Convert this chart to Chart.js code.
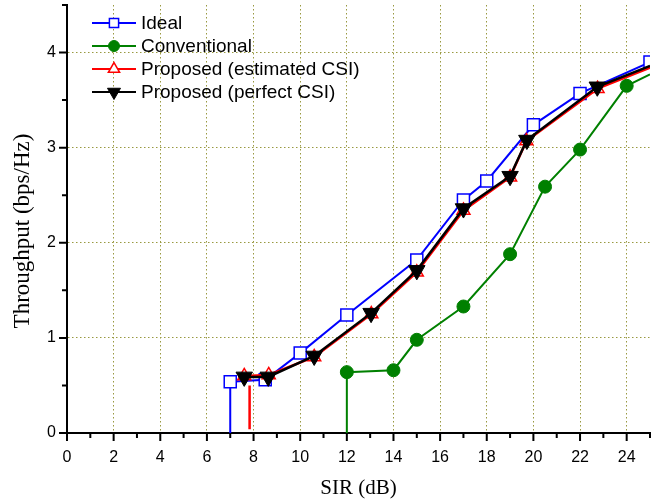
<!DOCTYPE html>
<html>
<head>
<meta charset="utf-8">
<script src="https://cdn.jsdelivr.net/npm/chart.js@4.4.0/dist/chart.umd.min.js"></script>
<style>
  html, body { margin: 0; padding: 0; background: #fff; }
</style>
</head>
<body>
<canvas id="myChart" width="668" height="504"></canvas>
<script>
// series (SIR in dB, throughput in bps/Hz)
var seriesNames = ["Ideal", "Conventional", "Proposed (estimated CSI)", "Proposed (perfect CSI)"];
var idealSIR = [7, 7, 8.5, 10, 12, 15, 17, 18, 20, 22, 25];
var idealTput = [0, 0.54, 0.56, 0.84, 1.24, 1.82, 2.45, 2.65, 3.24, 3.57, 3.9];
var convSIR = [12, 12, 14, 15, 17, 19, 20.5, 22, 24, 25];
var convTput = [0, 0.64, 0.66, 0.98, 1.33, 1.88, 2.59, 2.98, 3.65, 3.77];
var estSIR = [7.83, 7.83, null, 7.6, 8.65, 10.6, 13.05, 15, 17, 19, 19.7, 22.75, 25];
var estTput = [0.04, 0.5, null, 0.6, 0.61, 0.8, 1.25, 1.69, 2.34, 2.69, 3.07, 3.62, 3.84];
var perfSIR = [7.6, 8.63, 10.6, 13.04, 15, 17, 19, 19.72, 22.74, 25];
var perfTput = [0.59, 0.59, 0.81, 1.26, 1.71, 2.36, 2.7, 3.08, 3.64, 3.86];

var xMin = 0, xMax = 25, yMin = 0, yMax = 4.5;
var xTitle = "SIR (dB)";
var yTitle = "Throughput (bps/Hz)";

function toPoints(xs, ys) {
  return xs.map(function (x, i) { return { x: x, y: ys[i] }; });
}

var olive = "#999940";
var sansFont = "'Liberation Sans', Arial, sans-serif";
var serifFont = "'Liberation Serif', 'Times New Roman', serif";

// draws the small outward ticks (major every 2 dB / 1 unit, minor in between)
var tickMarks = {
  id: "tickMarks",
  afterDraw: function (chart) {
    var ctx = chart.ctx, area = chart.chartArea;
    ctx.save();
    ctx.strokeStyle = "#000";
    ctx.lineWidth = 2;
    ctx.beginPath();
    chart.scales.x.ticks.forEach(function (t) {
      var px = chart.scales.x.getPixelForValue(t.value);
      ctx.moveTo(px, area.bottom);
      ctx.lineTo(px, area.bottom + (t.value % 2 === 0 ? 8 : 5));
    });
    chart.scales.y.ticks.forEach(function (t) {
      var py = chart.scales.y.getPixelForValue(t.value);
      ctx.moveTo(area.left, py);
      ctx.lineTo(area.left - (t.value % 1 === 0 ? 8 : 5), py);
    });
    ctx.stroke();

    // y title, sitting a little below the middle of the axis as in the original
    ctx.fillStyle = "#000";
    ctx.font = "23px " + serifFont;
    ctx.textAlign = "center";
    ctx.textBaseline = "middle";
    ctx.translate(23, 231);
    ctx.rotate(-Math.PI / 2);
    ctx.fillText(yTitle, 0, 0);
    ctx.restore();
  }
};

// legend in Origin style: line - marker - line, then label
var legendBox = {
  id: "legendBox",
  afterDraw: function (chart) {
    var ctx = chart.ctx;
    var rowY = [23, 46, 69, 92];
    var sizes = [6.5, 5.5, 6.5, 7.5];
    chart.data.datasets.forEach(function (ds, i) {
      var y = rowY[i];
      ctx.save();
      ctx.strokeStyle = ds.borderColor;
      ctx.lineWidth = 2;
      ctx.beginPath();
      ctx.moveTo(92, y);
      ctx.lineTo(136, y);
      ctx.stroke();
      ctx.fillStyle = ds.pointBackgroundColor;
      ctx.strokeStyle = ds.pointBorderColor;
      ctx.lineWidth = ds.pointBorderWidth;
      Chart.helpers.drawPoint(ctx, {
        pointStyle: ds.pointStyle,
        rotation: ds.pointRotation || 0,
        radius: sizes[i],
        borderWidth: ds.pointBorderWidth
      }, 114, y);
      ctx.fillStyle = "#000";
      ctx.font = "19px " + sansFont;
      ctx.textBaseline = "middle";
      ctx.textAlign = "left";
      ctx.fillText(seriesNames[i], 141, y + 1);
      ctx.restore();
    });
  }
};

function radii(xs, r, hidden) {
  return xs.map(function (x, i) {
    return (hidden.indexOf(i) >= 0) ? 0 : r;
  });
}

var ctx = document.getElementById("myChart").getContext("2d");
var chart = new Chart(ctx, {
  type: "line",
  data: {
    datasets: [
      {
        label: seriesNames[0],
        data: toPoints(idealSIR, idealTput),
        borderColor: "#0000ff",
        borderWidth: 2,
        pointStyle: "rect",
        pointRadius: radii(idealSIR, 8.5, [0]),
        pointBackgroundColor: "#ffffff",
        pointBorderColor: "#0000ff",
        pointBorderWidth: 1.5,
        order: 4
      },
      {
        label: seriesNames[1],
        data: toPoints(convSIR, convTput),
        borderColor: "#008000",
        borderWidth: 2,
        pointStyle: "circle",
        pointRadius: radii(convSIR, 6.5, [0, convSIR.length - 1]),
        pointBackgroundColor: "#008000",
        pointBorderColor: "#008000",
        pointBorderWidth: 1,
        order: 3
      },
      {
        label: seriesNames[2],
        data: toPoints(estSIR, estTput),
        borderColor: "#ff0000",
        borderWidth: 2.5,
        pointStyle: "triangle",
        pointRadius: radii(estSIR, 7.5, [0, 1, 2, estSIR.length - 1]),
        pointBackgroundColor: "#ffffff",
        pointBorderColor: "#ff0000",
        pointBorderWidth: 1.5,
        order: 2
      },
      {
        label: seriesNames[3],
        data: toPoints(perfSIR, perfTput),
        borderColor: "#000000",
        borderWidth: 2.5,
        pointStyle: "triangle",
        pointRotation: 180,
        pointRadius: radii(perfSIR, 9.5, [perfSIR.length - 1]),
        pointBackgroundColor: "#000000",
        pointBorderColor: "#000000",
        pointBorderWidth: 1,
        order: 1
      }
    ]
  },
  options: {
    responsive: false,
    animation: false,
    devicePixelRatio: 1,
    clip: 0,
    spanGaps: false,
    layout: { autoPadding: false, padding: { left: 0, right: 18, top: 5, bottom: 0 } },
    plugins: {
      legend: { display: false },
      tooltip: { enabled: false }
    },
    elements: { line: { tension: 0 } },
    scales: {
      x: {
        type: "linear",
        min: xMin,
        max: xMax,
        afterFit: function (s) {
          s.height = 71;
          s.paddingLeft = 0;
          s.paddingRight = 0;
        },
        ticks: {
          stepSize: 1,
          autoSkip: false,
          maxRotation: 0,
          padding: 15,
          color: "#000",
          font: { family: sansFont, size: 16 },
          callback: function (v) { return v % 2 === 0 ? String(v) : ""; }
        },
        grid: {
          drawTicks: false,
          lineWidth: 1,
          color: function (c) {
            var v = c.tick && c.tick.value;
            return (v % 2 === 0 && v !== 0) ? olive : "rgba(0,0,0,0)";
          }
        },
        border: { display: true, color: "#000", width: 2, dash: [1.5, 2.5] },
        title: {
          display: true,
          text: xTitle,
          color: "#000",
          font: { family: serifFont, size: 21 },
          padding: { top: 3, bottom: 3 }
        }
      },
      y: {
        min: yMin,
        max: yMax,
        afterFit: function (s) {
          s.width = 67;
          s.paddingTop = 0;
          s.paddingBottom = 0;
        },
        ticks: {
          stepSize: 0.5,
          autoSkip: false,
          padding: 11,
          color: "#000",
          font: { family: sansFont, size: 16 },
          callback: function (v) { return v % 1 === 0 ? String(v) : ""; }
        },
        grid: {
          drawTicks: false,
          lineWidth: 1,
          color: function (c) {
            var v = c.tick && c.tick.value;
            return (v % 1 === 0 && v !== 0) ? olive : "rgba(0,0,0,0)";
          }
        },
        border: { display: true, color: "#000", width: 2, dash: [1.5, 2.5] },
        title: { display: false }
      }
    }
  },
  plugins: [tickMarks, legendBox]
});
</script>
</body>
</html>
